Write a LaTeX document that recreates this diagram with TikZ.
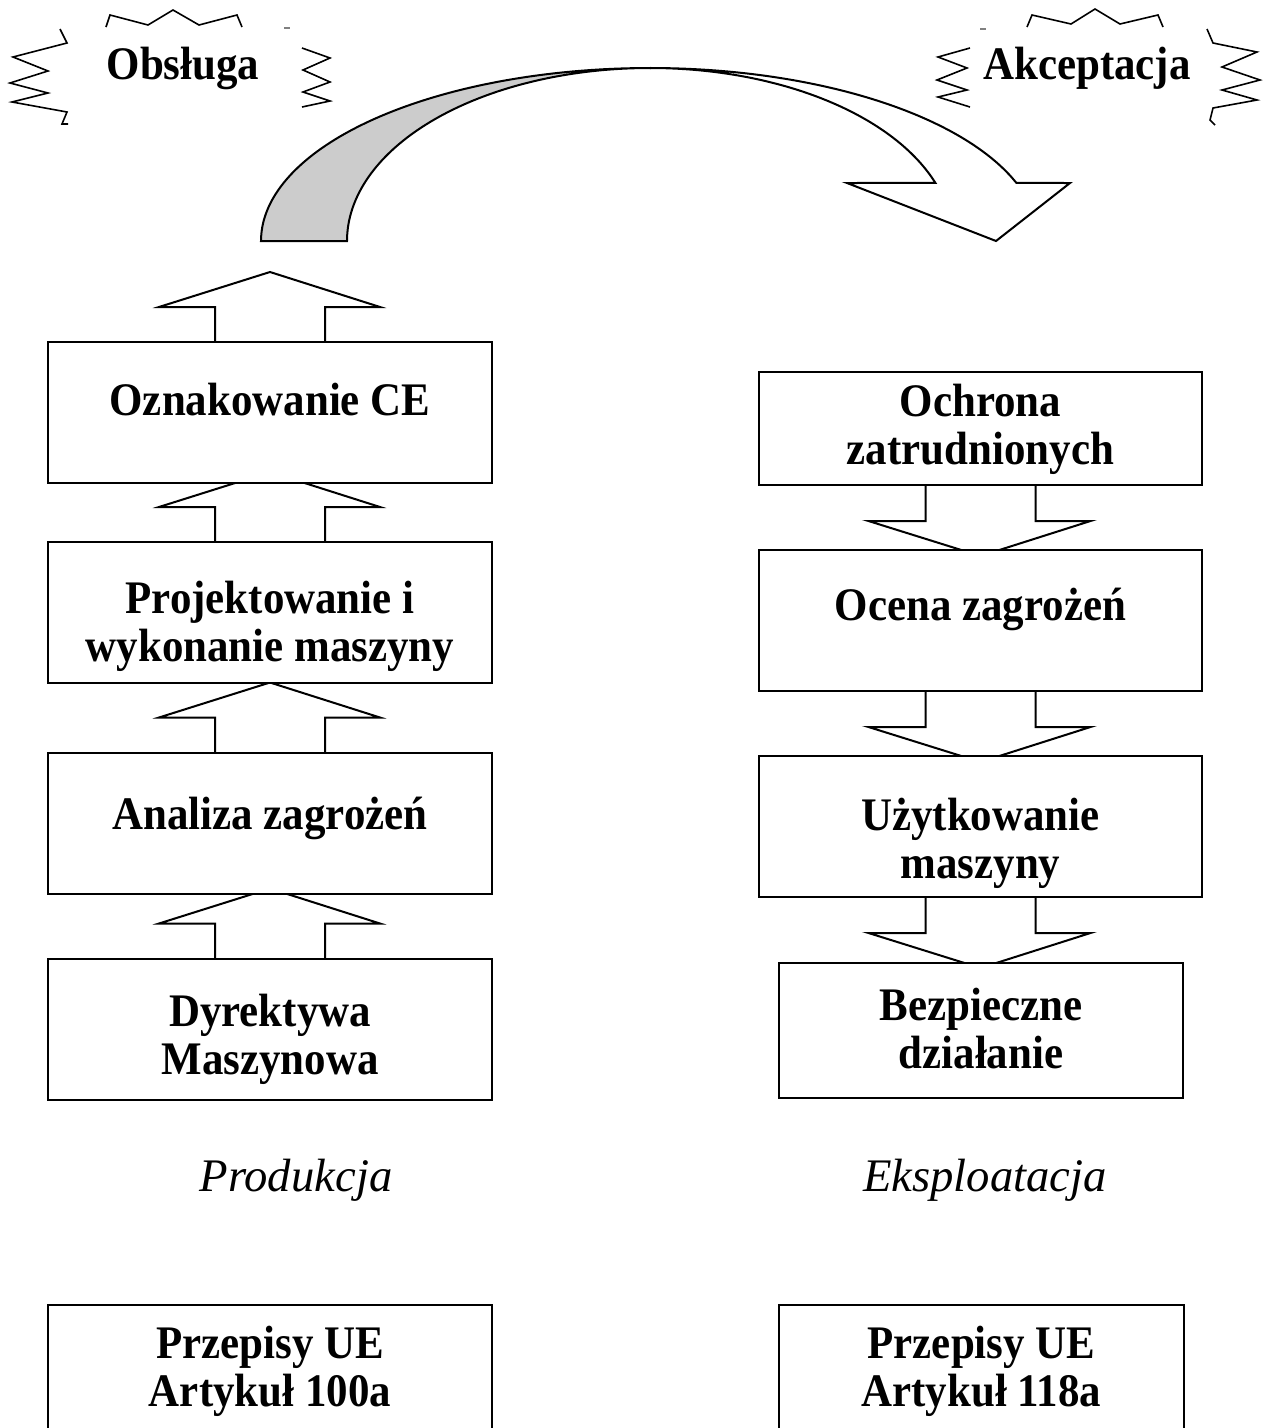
\documentclass[tikz,border=0pt]{standalone}
\usepackage{fontspec}
\setmainfont{Liberation Serif}[BoldFeatures={FakeStretch=0.92}]
\pgfdeclarelayer{background}
\pgfsetlayers{background,main}
\definecolor{arcgray}{RGB}{204,204,204}
\tikzset{
    box/.style={draw, fill=white, line width=1.5pt, inner sep=0pt, outer sep=0pt},
    leftbox/.style={box, minimum width=333pt, minimum height=105.75pt},
    rightbox/.style={box, minimum width=332.25pt, minimum height=105.75pt},
    boxtext/.style={align=center, inner sep=0pt, font=\fontsize{35}{36}\selectfont\bfseries},
    blockline/.style={line width=1.5pt, line join=miter},
    burst/.style={line width=1.2pt, line join=miter},
    title/.style={font=\fontsize{35}{36}\selectfont\bfseries},
    side/.style={font=\fontsize{35}{40}\selectfont\itshape},
    upblock/.pic={
        \draw[blockline] (-55,0) -- (-55,-35) -- (-111,-35) -- (0,-70) -- (110,-35) -- (55,-35) -- (55,0);
    },
    downblock/.pic={
        \draw[blockline] (-55,0) -- (-55,36) -- (-112,36) -- (0,71) -- (110,36) -- (55,36) -- (55,0);
    },
}

\begin{document}
\begin{tikzpicture}[x=0.75pt, y=-0.75pt]
    \clip (0,0) rectangle (1266,1428);
    % left column: production
    \node[leftbox] (ce) at (270,412.5) {};
    \node[leftbox] (proj) at (270,612.5) {};
    \node[leftbox] (anal) at (270,823) {};
    \node[leftbox] (dyr) at (270,1029) {};
    \node[boxtext] (ce-t) at ([yshift=9.75pt]ce) {Oznakowanie CE};
    \node[boxtext] (proj-t) at ([yshift=-10.5pt]proj) {Projektowanie i\\wykonanie maszyny};
    \node[boxtext] (anal-t) at ([yshift=3.75pt]anal) {Analiza zagrożeń};
    \node[boxtext] (dyr-t) at ([yshift=-7.5pt]dyr) {Dyrektywa\\Maszynowa};
    % right column: use
    \node[rightbox, minimum height=84.75pt] (ochr) at (980.5,428.5) {};
    \node[rightbox] (ocena) at (980.5,620.5) {};
    \node[rightbox] (uzyt) at (980.5,826.5) {};
    \node[box, minimum width=303pt, minimum height=101.25pt] (bezp) at (981,1030.5) {};
    \node[boxtext] (ochr-t) at ([yshift=-1pt]ochr) {Ochrona\\zatrudnionych};
    \node[boxtext] (ocena-t) at ([yshift=8.25pt]ocena) {Ocena zagrożeń};
    \node[boxtext] (uzyt-t) at ([yshift=-12.75pt]uzyt) {Użytkowanie\\maszyny};
    \node[boxtext] (bezp-t) at ([yshift=1.5pt]bezp) {Bezpieczne\\działanie};
    \begin{pgfonlayer}{background}
        \pic at (ce.north) {upblock};
        \pic at (proj.north) {upblock};
        \pic at (anal.north) {upblock};
        \pic at (dyr.north) {upblock};
        \pic at (ochr.south) {downblock};
        \pic at (ocena.south) {downblock};
        \pic at (uzyt.south) {downblock};
    \end{pgfonlayer}
    \node[side] (prod) at (296,1180) {Produkcja};
    \node[side] (eksp) at (985,1180) {Eksploatacja};
    \node[leftbox, minimum height=95.25pt] (art1) at (270,1368.5) {};
    \node[box, minimum width=303.75pt, minimum height=95.25pt] (art2) at (981.5,1368.5) {};
    \node[boxtext] (art1-t) at ([yshift=-2pt]art1) {Przepisy UE\\Artykuł 100a};
    \node[boxtext] (art2-t) at ([yshift=-2pt]art2) {Przepisy UE\\Artykuł 118a};
    % curved arrow
    \filldraw[blockline, fill=arcgray] plot[smooth, samples=40, domain=180:90] ({650+389*cos(\x)}, {241-173*sin(\x)})
        -- plot[smooth, samples=40, domain=90:180] ({650+303*cos(\x)}, {241-173*sin(\x)}) -- cycle;
    \draw[blockline] plot[smooth, samples=30, domain=90:19.6] ({650+389*cos(\x)}, {241-173*sin(\x)})
        -- (1070,183) -- (996,241) -- (847,183)
        -- plot[smooth, samples=30, domain=19.6:90] ({650+303*cos(\x)}, {241-173*sin(\x)});
    % explosions
    \node[title] (obs) at (183,68) {Obsługa};
    \draw[burst] (106,27) -- (110,15) -- (148,25) -- (173,10) -- (199,25) -- (237,15) -- (242,27);
    \draw[burst] (60,29) -- (67,43) -- (13,57) -- (48,71) -- (10,83) -- (48,93) -- (12,102) -- (67,112) -- (62,124) -- (68,124);
    \draw[burst] (302,48) -- (330,58) -- (303,70) -- (330,82) -- (303,92) -- (330,101) -- (302,107);
    \draw[burst, gray] (284,28) -- (290,28);
    \node[title] (akc) at (1087,68) {Akceptacja};
    \draw[burst] (1027,27) -- (1032,15) -- (1071,24) -- (1095,9) -- (1120,24) -- (1158,15) -- (1163,27);
    \draw[burst] (970,48) -- (938,57) -- (967,68) -- (937,80) -- (967,90) -- (938,97) -- (970,107);
    \draw[burst] (1207,29) -- (1213,43) -- (1257,52) -- (1222,67) -- (1260,80) -- (1222,90) -- (1257,100) -- (1213,108) -- (1210,120) -- (1215,125);
    \draw[burst, gray] (980,29) -- (986,29);
\end{tikzpicture}
\end{document}
